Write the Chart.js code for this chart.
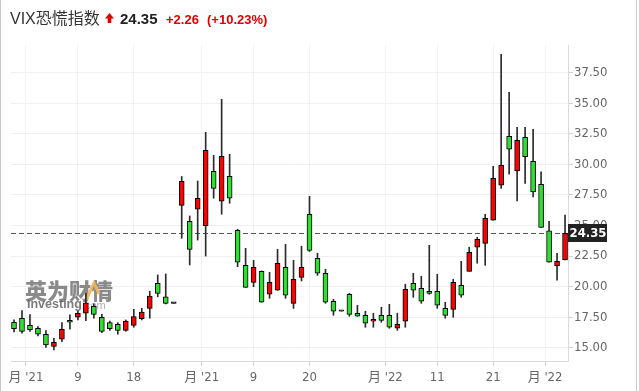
<!DOCTYPE html>
<html>
<head>
<meta charset="utf-8">
<script src="https://cdn.jsdelivr.net/npm/chart.js@4.4.1/dist/chart.umd.min.js"></script>
<style>
  html, body { margin: 0; padding: 0; background: #fff; }
  canvas { display: block; }
</style>
</head>
<body>
<canvas id="vixChart" width="639" height="391"></canvas>
<script>
// trading days, Oct 28 2021 .. Feb 3 2022
const days = ['10-28','10-29','11-01','11-02','11-03','11-04','11-05','11-08','11-09','11-10',
  '11-11','11-12','11-15','11-16','11-17','11-18','11-19','11-22','11-23','11-24',
  '11-25','11-26','11-29','11-30','12-01','12-02','12-03','12-06','12-07','12-08',
  '12-09','12-10','12-13','12-14','12-15','12-16','12-17','12-20','12-21','12-22',
  '12-23','12-24','12-27','12-28','12-29','12-30','12-31','01-03','01-04','01-05',
  '01-06','01-07','01-10','01-11','01-12','01-13','01-14','01-18','01-19','01-20',
  '01-21','01-24','01-25','01-26','01-27','01-28','01-31','02-01','02-02','02-03'];

const opens = [17.08,17.41,16.83,16.59,16.10,15.11,15.69,17.24,17.49,17.82,
  18.39,17.49,17.05,16.91,16.42,16.83,17.37,18.22,20.27,19.17,
  18.63,26.65,25.34,26.33,24.98,29.44,26.98,29.03,24.61,21.74,
  20.35,21.25,19.37,19.70,21.58,18.63,20.76,25.92,22.32,21.09,
  18.80,17.98,19.37,17.82,17.65,17.16,17.65,17.65,16.59,17.16,
  20.27,19.86,19.62,19.62,18.22,18.14,20.11,21.25,23.22,23.54,
  25.43,28.29,32.30,29.46,32.22,30.25,28.37,24.57,21.69,22.18];
const highs = [17.27,18.03,17.70,16.72,16.39,15.77,17.05,17.68,18.00,19.45,
  18.58,17.73,17.18,17.05,17.27,18.14,18.22,19.62,20.95,21.03,
  18.63,29.01,25.78,28.64,32.63,30.74,35.33,30.83,24.69,23.13,
  22.15,21.28,21.17,23.05,23.46,22.15,23.30,27.39,22.73,21.42,
  18.96,17.98,19.45,18.47,17.98,17.82,18.31,18.55,17.82,20.19,
  21.09,20.84,23.38,21.01,18.72,20.60,22.07,23.22,24.03,25.92,
  29.84,39.01,35.90,33.04,33.04,32.87,29.40,25.34,22.73,25.86];
const lows = [16.28,16.18,16.34,15.96,15.03,14.81,15.49,16.51,17.27,17.21,
  17.41,16.23,16.42,16.10,16.34,16.67,17.27,17.41,19.17,18.58,
  18.63,23.95,21.77,23.81,22.50,27.23,25.92,26.82,21.63,19.94,
  19.99,18.72,19.04,19.70,19.04,18.22,20.46,22.87,20.92,18.63,
  17.65,17.98,17.57,17.57,16.67,16.67,17.08,16.59,16.42,16.67,
  19.12,18.63,19.37,18.22,17.41,17.49,19.12,21.25,21.91,21.74,
  25.43,28.04,29.19,27.00,28.45,27.33,24.85,21.99,20.52,22.18];
const closes = [16.55,16.34,16.47,16.10,15.22,15.44,16.51,17.08,17.82,18.68,
  17.73,16.34,16.55,16.42,17.18,17.54,17.92,19.23,19.45,18.63,
  18.63,28.62,23.05,27.23,31.15,28.04,30.66,27.23,21.99,19.94,
  21.58,18.72,20.35,21.91,19.29,20.60,21.58,22.95,21.09,18.72,
  17.98,17.98,17.73,17.57,17.00,17.32,17.24,16.67,16.91,19.78,
  19.70,18.80,19.45,18.47,17.65,20.35,19.29,22.81,23.87,25.59,
  28.86,29.93,31.24,31.96,30.63,27.74,24.85,21.99,22.07,24.35];

// x tick positions in candle-index units (month ticks sit between months)
const tickIdx = [1.5, 8, 15, 23.5, 30, 37, 46.5, 53, 60, 66.5];
const tickLabels = ["月 '21", '9', '18', "月 '21", '9', '20', "月 '22", '11', '21', "月 '22"];
const yTicks = [15, 17.5, 20, 22.5, 25, 27.5, 30, 32.5, 35, 37.5];

const title = 'VIX恐慌指数';
const lastPrice = 24.35;
const changeText = '+2.26';
const changePctText = '(+10.23%)';

const NARROW = "'Liberation Sans Narrow', 'DejaVu Sans Condensed', Roboto, 'Noto Sans CJK SC', sans-serif";
const SANS = "'Liberation Sans', Arial, 'Noto Sans CJK SC', sans-serif";

const candleColors = opens.map((o, i) => closes[i] > o ? '#ff0000' : (closes[i] < o ? '#2ee02e' : '#333333'));

const overlay = {
  id: 'overlay',
  beforeDatasetsDraw(chart) {
    const { ctx, chartArea: a, scales: { y } } = chart;
    ctx.save();
    // watermark
    ctx.globalAlpha = 0.9;
    ctx.textBaseline = 'middle';
    ctx.fillStyle = '#7d7d7d';
    ctx.font = "900 22px 'Noto Sans CJK SC', sans-serif";
    ctx.fillText('英为财情', 25, 291);
    ctx.strokeStyle = '#f2b45a';
    ctx.lineWidth = 3;
    ctx.beginPath();
    ctx.moveTo(86, 300); ctx.lineTo(94, 283); ctx.lineTo(99, 294);
    ctx.stroke();
    ctx.fillStyle = '#6e6e6e';
    ctx.font = "bold 12.5px 'Liberation Sans', Arial, sans-serif";
    ctx.fillText('Investing', 27, 305);
    const w = ctx.measureText('Investing').width;
    ctx.fillStyle = '#aaaaaa';
    ctx.font = "11px 'Liberation Sans', Arial, sans-serif";
    ctx.fillText('.com', 27 + w, 306);
    ctx.globalAlpha = 1;
    // last price dashed line
    const py = Math.round(y.getPixelForValue(lastPrice)) + 0.5;
    ctx.strokeStyle = '#555';
    ctx.lineWidth = 1;
    ctx.setLineDash([5, 3]);
    ctx.beginPath();
    ctx.moveTo(a.left, py);
    ctx.lineTo(a.right, py);
    ctx.stroke();
    ctx.restore();
  },
  afterDraw(chart) {
    const { ctx, chartArea: a, scales: { y } } = chart;
    ctx.save();
    // price tag on the axis
    const py = y.getPixelForValue(lastPrice);
    ctx.fillStyle = '#222';
    ctx.fillRect(a.right, Math.round(py) - 9, 39, 18);
    ctx.fillStyle = '#fff';
    ctx.font = 'bold 13px ' + NARROW;
    ctx.textBaseline = 'middle';
    ctx.textAlign = 'center';
    ctx.fillText(lastPrice.toFixed(2), a.right + 20, Math.round(py) + 0.5);
    ctx.textAlign = 'left';

    // header
    ctx.textBaseline = 'alphabetic';
    ctx.fillStyle = '#333';
    ctx.font = '16px ' + SANS;
    ctx.fillText(title, 10, 23.5);
    ctx.fillStyle = '#e00000';
    ctx.beginPath();
    ctx.moveTo(105, 18.5); ctx.lineTo(109.5, 13); ctx.lineTo(114, 18.5);
    ctx.closePath(); ctx.fill();
    ctx.fillRect(107.7, 18, 3.6, 5);
    ctx.fillStyle = '#222';
    ctx.font = 'bold 15px ' + SANS;
    ctx.fillText(lastPrice.toFixed(2), 120, 23.5);
    ctx.fillStyle = '#e00000';
    ctx.font = 'bold 13px ' + SANS;
    ctx.fillText(changeText, 166, 23.5);
    ctx.fillText(changePctText, 207, 23.5);

    // frame
    ctx.fillStyle = '#c9c9c9';
    ctx.fillRect(0, 0, 1, 391);
    ctx.fillRect(636, 0, 1, 391);
    ctx.restore();
  }
};

new Chart(document.getElementById('vixChart').getContext('2d'), {
  type: 'bar',
  data: {
    datasets: [
      {
        label: 'wick',
        data: days.map((d, i) => ({ x: i, y: [lows[i], highs[i]] })),
        backgroundColor: '#2b2b2b',
        barThickness: 1,
        grouped: false,
        order: 2
      },
      {
        label: 'body',
        data: days.map((d, i) => ({ x: i, y: [opens[i], closes[i]] })),
        backgroundColor: candleColors,
        borderColor: '#000',
        borderWidth: 1,
        borderSkipped: false,
        barThickness: 5,
        minBarLength: 1.5,
        grouped: false,
        order: 1
      }
    ]
  },
  options: {
    responsive: false,
    animation: false,
    devicePixelRatio: 1,
    layout: { padding: { left: 11, top: 45, right: 0, bottom: 0 } },
    plugins: { legend: { display: false }, tooltip: { enabled: false } },
    scales: {
      x: {
        type: 'linear',
        offset: false,
        min: -0.376,
        max: 69.37,
        afterFit: s => { s.height = 30; },
        afterBuildTicks: s => { s.ticks = tickIdx.map(v => ({ value: v })); },
        grid: { offset: false, color: '#f2f2f2', tickColor: '#cfd3d8', tickLength: 5 },
        border: { color: '#d6dade' },
        ticks: {
          autoSkip: false, maxRotation: 0, padding: 4,
          color: '#666', font: { family: NARROW, size: 13 },
          callback: (v, i) => tickLabels[i]
        }
      },
      y: {
        position: 'right',
        min: 13.91,
        max: 39.77,
        afterFit: s => { s.width = 71; },
        afterBuildTicks: s => { s.ticks = yTicks.map(v => ({ value: v })); },
        grid: { color: '#efefef', tickColor: '#cfd3d8', tickLength: 5 },
        border: { color: '#d6dade' },
        ticks: {
          padding: 1,
          color: '#666', font: { family: NARROW, size: 13 },
          callback: v => v.toFixed(2)
        }
      }
    }
  },
  plugins: [overlay]
});
</script>
</body>
</html>
